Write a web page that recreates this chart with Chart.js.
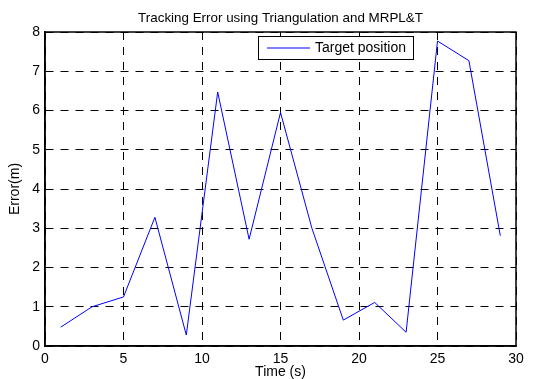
<!DOCTYPE html>
<html>
<head>
<meta charset="utf-8">
<script src="https://cdn.jsdelivr.net/npm/chart.js@4.4.0/dist/chart.umd.min.js"></script>
<style>
  html, body { margin: 0; padding: 0; background: #fff; }
  #wrap { width: 533px; height: 379px; }
</style>
</head>
<body>
<div id="wrap"><canvas id="errChart" width="533" height="379"></canvas></div>
<script>
// time samples (s) and tracking error (m)
const timeValues = [1, 3, 5, 7, 9, 11, 13, 15, 17, 19, 21, 23, 25, 27, 29];
const errorValues = [0.48, 1.0, 1.25, 3.28, 0.28, 6.47, 2.72, 5.95, 3.0, 0.66, 1.11, 0.35, 7.77, 7.27, 2.81];
const seriesLabel = 'Target position';
const chartTitle = 'Tracking Error using Triangulation and MRPL&T';

const FONT = 'Liberation Sans, Arial, Helvetica, sans-serif';

// axes box, title centred over the axes (like matlab) and the legend
const boxPlugin = {
    id: 'boxPlugin',
    afterDraw(chart) {
        const ctx = chart.ctx;
        const a = chart.chartArea;
        ctx.save();
        ctx.strokeStyle = '#000';
        ctx.lineWidth = 1.5;
        ctx.strokeRect(a.left, a.top, a.right - a.left, a.bottom - a.top);

        ctx.fillStyle = '#000';
        ctx.font = '13.4px ' + FONT;
        ctx.textAlign = 'center';
        ctx.textBaseline = 'middle';
        ctx.fillText(chartTitle, (a.left + a.right) / 2, a.top - 14);

        // legend
        const lx = a.right - 258, ly = a.top + 4, lw = 155, lh = 23;
        ctx.fillStyle = '#fff';
        ctx.fillRect(lx, ly, lw, lh);
        ctx.lineWidth = 1;
        ctx.strokeRect(lx + 0.5, ly + 0.5, lw, lh);
        ctx.strokeStyle = '#0000ff';
        ctx.beginPath();
        ctx.moveTo(lx + 9, ly + 12);
        ctx.lineTo(lx + 52, ly + 12);
        ctx.stroke();
        ctx.fillStyle = '#000';
        ctx.font = '14px ' + FONT;
        ctx.textAlign = 'left';
        ctx.fillText(chart.data.datasets[0].label, lx + 57, ly + 12);
        ctx.restore();
    }
};

new Chart(document.getElementById('errChart').getContext('2d'), {
    type: 'line',
    data: {
        datasets: [{
            label: seriesLabel,
            data: timeValues.map((t, i) => ({x: t, y: errorValues[i]})),
            borderColor: '#0000ff',
            borderWidth: 1,
            pointRadius: 0,
            tension: 0,
            fill: false
        }]
    },
    options: {
        responsive: false,
        animation: false,
        layout: { padding: { left: 0, right: 17, top: 32, bottom: 0 } },
        plugins: {
            legend: { display: false },
            tooltip: { enabled: false },
            title: { display: false }
        },
        scales: {
            x: {
                type: 'linear',
                min: 0,
                max: 30,
                afterFit: function(scale) { scale.height = 33; },
                ticks: {
                    stepSize: 5,
                    color: '#000',
                    padding: 5,
                    maxRotation: 0,
                    font: { family: FONT, size: 14 }
                },
                grid: { color: '#000', lineWidth: 1, drawTicks: false },
                border: { display: true, color: '#000', width: 1.5, dash: [8, 7] },
                title: {
                    display: true,
                    text: 'Time (s)',
                    color: '#000',
                    font: { family: FONT, size: 14, lineHeight: 1 },
                    padding: { top: 0, bottom: 0 }
                }
            },
            y: {
                min: 0,
                max: 8,
                afterFit: function(scale) { scale.width = 45; },
                ticks: {
                    stepSize: 1,
                    color: '#000',
                    padding: 5,
                    font: { family: FONT, size: 14 }
                },
                grid: { color: '#000', lineWidth: 1, drawTicks: false },
                border: { display: true, color: '#000', width: 1.5, dash: [8, 7] },
                title: {
                    display: true,
                    text: 'Error(m)',
                    color: '#000',
                    font: { family: FONT, size: 14 },
                    padding: { top: 7, bottom: 0 }
                }
            }
        }
    },
    plugins: [boxPlugin]
});
</script>
</body>
</html>
